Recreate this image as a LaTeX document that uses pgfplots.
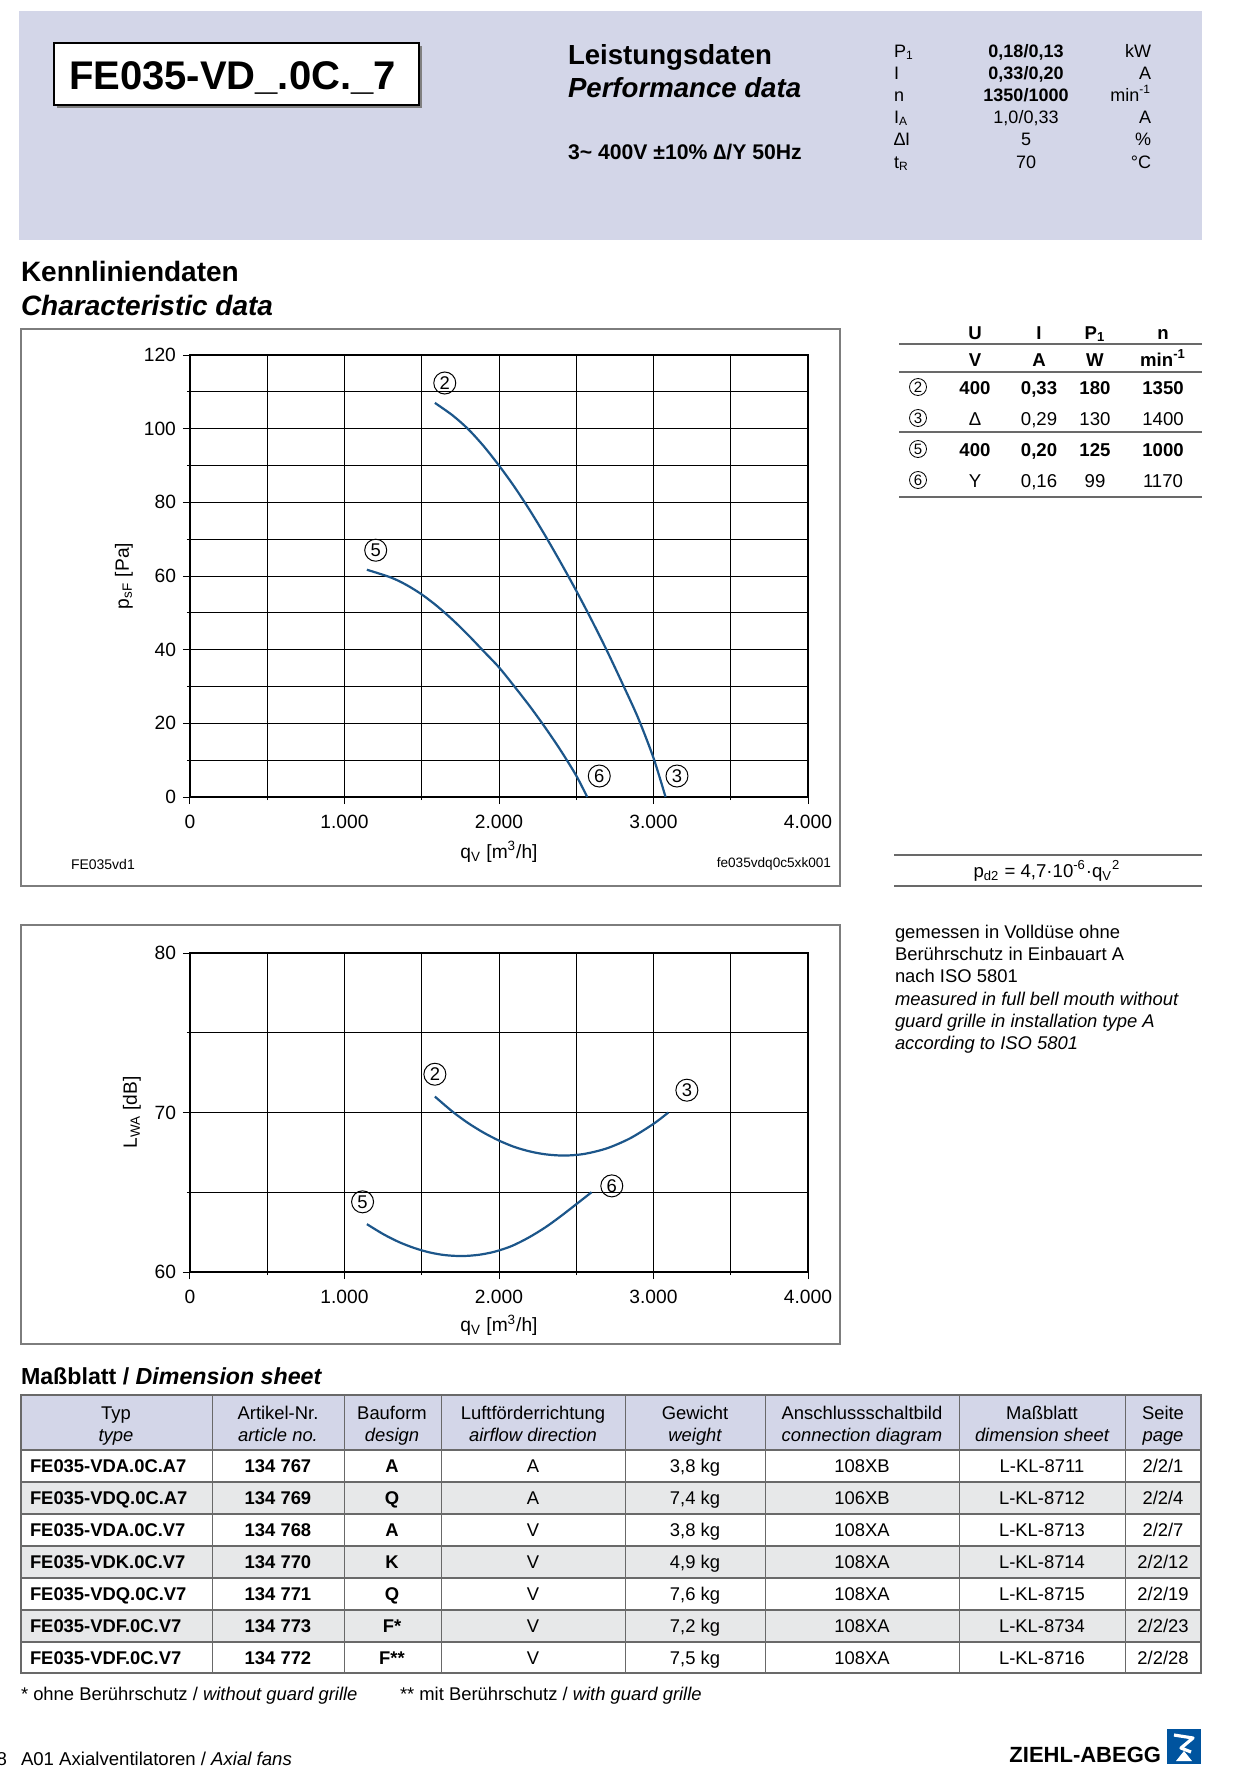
\documentclass[border=0pt]{standalone}
\usepackage{fontspec}
\setmainfont{Liberation Sans}
\usepackage{pgfplots}
\pgfplotsset{compat=1.18}

\definecolor{lav}{RGB}{211,214,232}
\definecolor{rowgray}{RGB}{231,232,233}
\definecolor{curve}{RGB}{28,86,138}
\definecolor{framegray}{RGB}{125,125,125}
\definecolor{linegray}{RGB}{105,105,105}
\definecolor{logoblue}{RGB}{0,84,159}

\newcommand\fs[1]{\fontsize{#1}{#1}\selectfont}
% parameter rows in the header
\newcommand\prow[4]{%
  \node[t,anchor=base west,font=\fs{9}] at (894,-#1) {#2};
  \node[t,anchor=base,font=\fs{9}] at (1026,-#1) {#3};
  \node[t,anchor=base east,font=\fs{9}] at (1151,-#1) {#4};}
% rows of the dimension table
\newcommand\trow[9]{%
  \node[t,anchor=base west,font=\fs{9.2}\bfseries] at (30,{-1472-32*(#1-1)}) {#2};
  \node[t,anchor=base,font=\fs{9.2}\bfseries] at (278,{-1472-32*(#1-1)}) {#3};
  \node[t,anchor=base,font=\fs{9.2}\bfseries] at (392,{-1472-32*(#1-1)}) {#4};
  \node[t,anchor=base,font=\fs{9.2}] at (533,{-1472-32*(#1-1)}) {#5};
  \node[t,anchor=base,font=\fs{9.2}] at (695,{-1472-32*(#1-1)}) {#6};
  \node[t,anchor=base,font=\fs{9.2}] at (862,{-1472-32*(#1-1)}) {#7};
  \node[t,anchor=base,font=\fs{9.2}] at (1042,{-1472-32*(#1-1)}) {#8};
  \node[t,anchor=base,font=\fs{9.2}] at (1163,{-1472-32*(#1-1)}) {#9};}
\newcommand\thead[3]{%
  \node[t,anchor=base,font=\fs{9.2}] at (#1,-1419) {#2};
  \node[t,anchor=base,font=\fs{9.2}\itshape] at (#1,-1441) {#3};}

\tikzset{
  circ/.style={circle,draw,line width=0.5pt,inner sep=0pt,minimum size=11pt,font=\fs{9.2}},
  t/.style={inner sep=0pt,outer sep=0pt},
}
\pgfplotsset{
  fanaxis/.style={
    scale only axis, width=309pt,
    xmin=0, xmax=4000,
    xtick={0,1000,2000,3000,4000},
    xticklabels={0,1.000,2.000,3.000,4.000},
    minor xtick={500,1500,2500,3500},
    grid=both,
    major grid style={black,line width=0.5pt},
    minor grid style={black,line width=0.5pt},
    tick align=outside, xtick pos=bottom, ytick pos=left,
    major tick length=3.5pt, minor tick length=1.5pt,
    every tick/.style={black,line width=0.5pt},
    axis line style={line width=0.8pt},
    tick label style={font=\fs{9.6}},
    xticklabel style={yshift=-2pt},
    label style={font=\fs{9.6}},
    /pgf/number format/assume math mode=true,
    clip=false,
  },
  fan/.style={smooth,color=curve,line width=1.1pt},
}

\begin{document}
\begin{tikzpicture}[x=0.5pt,y=0.5pt]
\useasboundingbox (0,0) rectangle (1234,-1788);

% ---- header
\fill[lav] (19,-11) rectangle (1202,-240);
\fill[gray] (57,-46) rectangle (422,-108);
\draw[fill=white,line width=1.2pt] (54,-43) rectangle (419,-105);
\node[t,anchor=base west,font=\fs{20}\bfseries] at (69,-89) {FE035-VD\_.0C.\_7};
\node[t,anchor=base west,font=\fs{13.8}\bfseries] at (568,-64) {Leistungsdaten};
\node[t,anchor=base west,font=\fs{13.8}\bfseries\itshape] at (568,-97) {Performance data};
\node[t,anchor=base west,font=\fs{10.6}\bfseries] at (568,-159) {3\textasciitilde{} 400V ±10\% ∆/Y 50Hz};
\prow{57}{P\textsubscript{1}}{\textbf{0,18/0,13}}{kW}
\prow{79}{I}{\textbf{0,33/0,20}}{A}
\prow{101}{n}{\textbf{1350/1000}}{min\textsuperscript{-1}}
\prow{123}{I\textsubscript{A}}{1,0/0,33}{A}
\prow{145}{∆I}{5}{\%}
\prow{168}{t\textsubscript{R}}{70}{°C}

% ---- characteristic data
\node[t,anchor=base west,font=\fs{14}\bfseries] at (21,-281) {Kennliniendaten};
\node[t,anchor=base west,font=\fs{14}\bfseries\itshape] at (21,-315) {Characteristic data};
\draw[framegray,line width=0.6pt] (21,-329) rectangle (840,-886);
\draw[framegray,line width=0.6pt] (21,-925) rectangle (840,-1344);

\begin{axis}[fanaxis, at={(95pt,-398.5pt)}, anchor=south west, height=221pt,
  ymin=0, ymax=120, ytick={0,20,...,120}, minor ytick={10,30,...,110},
  xlabel={q\textsubscript{V} [m\textsuperscript{3}/h]},
  ylabel={p\textsubscript{sF} [Pa]},
  x label style={at={(axis description cs:0.5,-0.124)},anchor=center},
  y label style={at={(axis description cs:-0.107,0.5)},anchor=center},
]
\addplot[fan] coordinates {(1585,107.0) (1700,103.6) (1800,99.9) (1900,95.3)
  (2000,90.0) (2100,84.2) (2200,77.8) (2300,70.9) (2400,63.6) (2500,56.0)
  (2600,48.0) (2700,39.6) (2800,30.7) (2900,21.5) (3000,10.6) (3078,0)};
\addplot[fan] coordinates {(1145,61.7) (1300,59.6) (1400,57.6) (1500,55.0)
  (1600,51.8) (1700,48.1) (1800,44.0) (1900,39.6) (2000,35.2) (2100,30.0)
  (2200,24.6) (2300,18.8) (2400,12.6) (2500,5.8) (2571,0)};
\node[circ] at (axis cs:1649,112.4) {2};
\node[circ] at (axis cs:1202,67.0) {5};
\node[circ] at (axis cs:2649,5.7) {6};
\node[circ] at (axis cs:3152,5.7) {3};
\end{axis}
\node[t,anchor=west,font=\fs{7}] at (71,-864) {FE035vd1};
\node[t,anchor=east,font=\fs{6.8}] at (831,-864) {fe035vdq0c5xk001};

\begin{axis}[fanaxis, at={(95pt,-636pt)}, anchor=south west, height=159.5pt,
  ymin=60, ymax=80, ytick={60,70,80}, minor ytick={65,75},
  xlabel={q\textsubscript{V} [m\textsuperscript{3}/h]},
  ylabel={L\textsubscript{WA} [dB]},
  x label style={at={(axis description cs:0.5,-0.166)},anchor=center},
  y label style={at={(axis description cs:-0.094,0.5)},anchor=center},
]
\addplot[fan] coordinates {(1585,71.0) (1700,70.05) (1800,69.34) (1900,68.74)
  (2000,68.24) (2100,67.84) (2200,67.56) (2300,67.38) (2420,67.3) (2550,67.40)
  (2700,67.76) (2850,68.39) (3000,69.29) (3096,70.0)};
\addplot[fan] coordinates {(1145,63.0) (1250,62.38) (1350,61.89) (1450,61.51)
  (1550,61.23) (1650,61.06) (1760,61.0) (1870,61.08) (1970,61.27) (2080,61.62)
  (2190,62.15) (2300,62.8) (2400,63.5) (2500,64.25) (2599,65.0)};
\node[circ] at (axis cs:1585,72.4) {2};
\node[circ] at (axis cs:3216,71.4) {3};
\node[circ] at (axis cs:1117,64.4) {5};
\node[circ] at (axis cs:2730,65.4) {6};
\end{axis}

% ---- right table
\foreach \yy in {344,372,432,497} \draw[linegray,line width=0.8pt] (899,-\yy) -- (1202,-\yy);
\foreach \x/\s in {975/U,1039/I,1095/P\textsubscript{1},1163/n}
  \node[t,anchor=base,font=\fs{9.3}\bfseries] at (\x,-339) {\s};
\foreach \x/\s in {975/V,1039/A,1095/W,1163/min\textsuperscript{-1}}
  \node[t,anchor=base,font=\fs{9.3}\bfseries] at (\x,-366) {\s};
\foreach \yy/\c in {387/2,418/3,449/5,480/6}
  \node[circle,draw,line width=0.4pt,inner sep=0pt,minimum size=8.5pt,font=\fs{7.5}] at (918,-\yy) {\c};
\foreach \x/\s in {975/400,1039/{0,33},1095/180,1163/1350}
  \node[t,anchor=base,font=\fs{9.3}\bfseries] at (\x,-394) {\s};
\foreach \x/\s in {975/∆,1039/{0,29},1095/130,1163/1400}
  \node[t,anchor=base,font=\fs{9.3}] at (\x,-425) {\s};
\foreach \x/\s in {975/400,1039/{0,20},1095/125,1163/1000}
  \node[t,anchor=base,font=\fs{9.3}\bfseries] at (\x,-456) {\s};
\foreach \x/\s in {975/Y,1039/{0,16},1095/99,1163/1170}
  \node[t,anchor=base,font=\fs{9.3}] at (\x,-487) {\s};
\draw[linegray,line width=0.8pt] (894,-855) -- (1202,-855);
\draw[linegray,line width=0.8pt] (894,-886) -- (1202,-886);
\node[t,font=\fs{9.3}] at (1047,-871) {p\textsubscript{d2} = 4,7·10\textsuperscript{-6}·q\textsubscript{V}\textsuperscript{2}};

\foreach \yy/\s in {938/{gemessen in Volldüse ohne},960/{Berührschutz in Einbauart A},982/{nach ISO 5801}}
  \node[t,anchor=base west,font=\fs{9.2}] at (895,-\yy) {\s};
\foreach \yy/\s in {1005/{measured in full bell mouth without},1027/{guard grille in installation type A},1049/{according to ISO 5801}}
  \node[t,anchor=base west,font=\fs{9.2}\itshape] at (895,-\yy) {\s};

% ---- dimension sheet
\node[t,anchor=base west,font=\fs{11.6}\bfseries] at (21,-1384) {Maßblatt / \textit{Dimension sheet}};
\fill[lav] (21,-1395) rectangle (1201,-1450);
\foreach \i in {2,4,6} \fill[rowgray] (21,{-1450-32*(\i-1)}) rectangle (1201,{-1450-32*\i});
\foreach \x in {212,344,441,625,765,959,1125} \draw[linegray,line width=0.5pt] (\x,-1395) -- (\x,-1673);
\foreach \i in {0,...,6} \draw[linegray,line width=1.1pt] (21,{-1450-32*\i}) -- (1201,{-1450-32*\i});
\draw[linegray,line width=1.1pt] (21,-1395) rectangle (1201,-1673);
\thead{116}{Typ}{type}
\thead{278}{Artikel-Nr.}{article no.}
\thead{392}{Bauform}{design}
\thead{533}{Luftförderrichtung}{airflow direction}
\thead{695}{Gewicht}{weight}
\thead{862}{Anschlussschaltbild}{connection diagram}
\thead{1042}{Maßblatt}{dimension sheet}
\thead{1163}{Seite}{page}
\trow{1}{FE035-VDA.0C.A7}{134 767}{A}{A}{3,8 kg}{108XB}{L-KL-8711}{2/2/1}
\trow{2}{FE035-VDQ.0C.A7}{134 769}{Q}{A}{7,4 kg}{106XB}{L-KL-8712}{2/2/4}
\trow{3}{FE035-VDA.0C.V7}{134 768}{A}{V}{3,8 kg}{108XA}{L-KL-8713}{2/2/7}
\trow{4}{FE035-VDK.0C.V7}{134 770}{K}{V}{4,9 kg}{108XA}{L-KL-8714}{2/2/12}
\trow{5}{FE035-VDQ.0C.V7}{134 771}{Q}{V}{7,6 kg}{108XA}{L-KL-8715}{2/2/19}
\trow{6}{FE035-VDF.0C.V7}{134 773}{F*}{V}{7,2 kg}{108XA}{L-KL-8734}{2/2/23}
\trow{7}{FE035-VDF.0C.V7}{134 772}{F**}{V}{7,5 kg}{108XA}{L-KL-8716}{2/2/28}
\node[t,anchor=base west,font=\fs{9.2}] at (21,-1700) {* ohne Berührschutz / \textit{without guard grille}};
\node[t,anchor=base west,font=\fs{9.2}] at (400,-1700) {** mit Berührschutz / \textit{with guard grille}};

% ---- footer
\node[t,anchor=base east,font=\fs{9.3}] at (7,-1765) {8};
\node[t,anchor=base west,font=\fs{9.3}] at (21,-1765) {A01 Axialventilatoren / \textit{Axial fans}};
\node[t,anchor=base east,font=\fs{11}\bfseries] at (1161,-1762) {ZIEHL-ABEGG};
\fill[logoblue] (1167,-1729) rectangle (1201,-1764);
\draw[white,line width=1.6pt,line join=round] (1174,-1735) -- (1193,-1738) -- (1181,-1748) -- (1191,-1752);
\fill[white] (1176,-1761) -- (1192,-1761) -- (1184,-1751) -- cycle;
\end{tikzpicture}
\end{document}
